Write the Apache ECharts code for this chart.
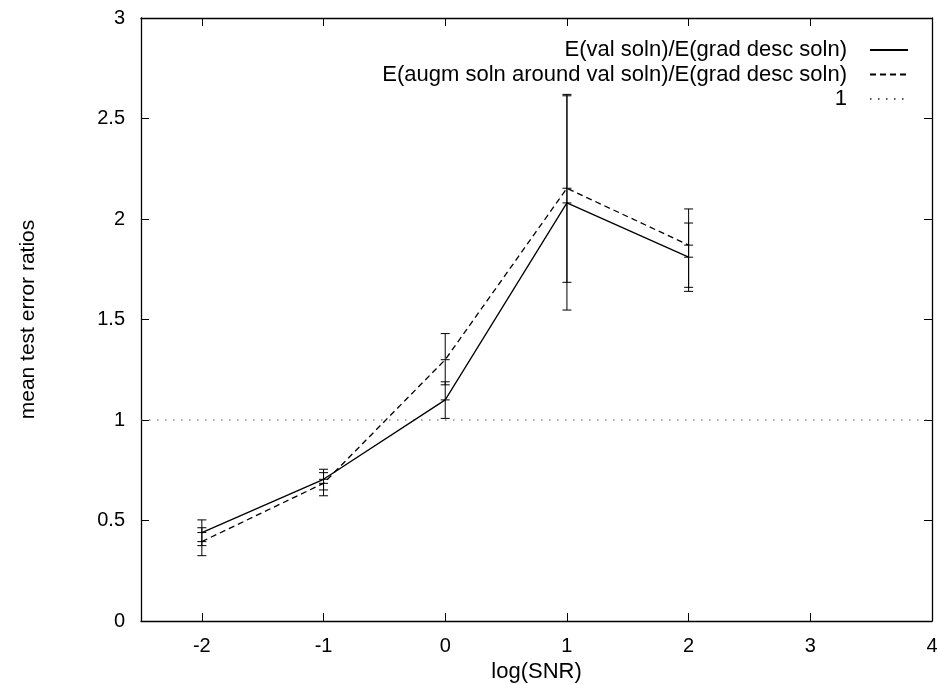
<!DOCTYPE html>
<html>
<head>
<meta charset="utf-8">
<script src="https://cdn.jsdelivr.net/npm/echarts@6/dist/echarts.min.js"></script>
<style>html,body{margin:0;padding:0;background:#fff}#chart{width:938px;height:684px}</style>
</head>
<body>
<div id="chart"></div>
<script>
// ---- data ----
const xMin = -2.5, xMax = 4, yMin = 0, yMax = 3;
const xTicks = [-2, -1, 0, 1, 2, 3, 4];
const snr = [-2, -1, 0, 1, 2];
const valRatio = [0.44, 0.705, 1.10, 2.08, 1.81];
const valLow   = [0.375, 0.652, 1.008, 1.547, 1.64];
const valHigh  = [0.503, 0.755, 1.19, 2.613, 1.98];
const augRatio = [0.395, 0.685, 1.30, 2.153, 1.87];
const augLow   = [0.325, 0.623, 1.175, 1.685, 1.66];
const augHigh  = [0.464, 0.738, 1.43, 2.62, 2.05];
const refLevel = 1;
const names = ['E(val soln)/E(grad desc soln)', 'E(augm soln around val soln)/E(grad desc soln)', '1'];

const font = 'Liberation Sans, Arial, Helvetica, sans-serif';
const chart = echarts.init(document.getElementById('chart'), null, {renderer: 'canvas'});

function errBars(params, api) {
  const x = api.value(0), lo = api.value(1), hi = api.value(2), c = api.value(3);
  const pLo = api.coord([x, lo]), pHi = api.coord([x, hi]), pC = api.coord([x, c]);
  const w = 4.5, st = {stroke: '#000', lineWidth: 1};
  const cap = (p) => ({type: 'line', shape: {x1: p[0] - w, y1: p[1], x2: p[0] + w, y2: p[1]}, style: st});
  return {type: 'group', children: [
    {type: 'line', shape: {x1: pLo[0], y1: pLo[1], x2: pHi[0], y2: pHi[1]}, style: st},
    cap(pLo), cap(pHi), cap(pC)
  ]};
}

const zip = (a, b) => a.map((v, i) => [v, b[i]]);
const errData = (lo, hi, c) => snr.map((x, i) => [x, lo[i], hi[i], c[i]]);

const tickStyle = {inside: true, length: 8, lineStyle: {color: '#000', width: 1}};
const axLine = {show: true, onZero: false, lineStyle: {color: '#000', width: 1.3}};

const option = {
  animation: false,
  backgroundColor: '#fff',
  grid: {left: 141, right: 6, top: 18, bottom: 63, show: false, containLabel: false, outerBoundsMode: 'none'},
  legend: {
    data: names, orient: 'vertical', align: 'right', right: 24, top: 34,
    itemWidth: 38, itemHeight: 12, itemGap: 2.5,
    itemStyle: {opacity: 0},
    textStyle: {fontFamily: font, fontSize: 22, color: '#000', lineHeight: 22, padding: [0, 18, 0, 0]},
    inactiveColor: '#000'
  },
  xAxis: [{
    type: 'value', min: xMin, max: xMax, position: 'bottom',
    name: 'log(SNR)', nameLocation: 'middle', nameGap: 32,
    nameTextStyle: {fontFamily: font, fontSize: 22, color: '#000'},
    axisLine: axLine, splitLine: {show: false},
    axisTick: Object.assign({show: true, customValues: xTicks}, tickStyle),
    axisLabel: {fontFamily: font, fontSize: 20, color: '#000', margin: 15, customValues: xTicks}
  }, {
    type: 'value', min: xMin, max: xMax, position: 'top',
    axisLine: axLine, splitLine: {show: false},
    axisTick: Object.assign({show: true, customValues: xTicks}, tickStyle),
    axisLabel: {show: false}
  }],
  yAxis: [{
    type: 'value', min: yMin, max: yMax, interval: 0.5, position: 'left',
    name: 'mean test error ratios', nameLocation: 'middle', nameGap: 102,
    nameTextStyle: {fontFamily: font, fontSize: 21, color: '#000'},
    axisLine: axLine, splitLine: {show: false},
    axisTick: Object.assign({show: true}, tickStyle),
    axisLabel: {fontFamily: font, fontSize: 20, color: '#000', margin: 16}
  }, {
    type: 'value', min: yMin, max: yMax, interval: 0.5, position: 'right',
    axisLine: axLine, splitLine: {show: false},
    axisTick: Object.assign({show: true}, tickStyle),
    axisLabel: {show: false}
  }],
  series: [
    {name: names[0], type: 'line', data: zip(snr, valRatio), symbol: 'none',
     lineStyle: {color: '#000', width: 1.3, type: 'solid'}, itemStyle: {color: '#000'}, z: 3},
    {name: names[1], type: 'line', data: zip(snr, augRatio), symbol: 'none',
     lineStyle: {color: '#000', width: 1.3, type: [6, 4]}, itemStyle: {color: '#000'}, z: 3},
    {name: names[2], type: 'line', data: [[xMin, refLevel], [xMax, refLevel]], symbol: 'none',
     lineStyle: {color: '#555', width: 1, type: [1.5, 6.5]}, itemStyle: {color: '#555'}, z: 2},
    {name: 'valErr', type: 'custom', renderItem: errBars, data: errData(valLow, valHigh, valRatio),
     encode: {x: 0, y: [1, 2]}, z: 4},
    {name: 'augErr', type: 'custom', renderItem: errBars, data: errData(augLow, augHigh, augRatio),
     encode: {x: 0, y: [1, 2]}, z: 4}
  ]
};
chart.setOption(option);
</script>
</body>
</html>
